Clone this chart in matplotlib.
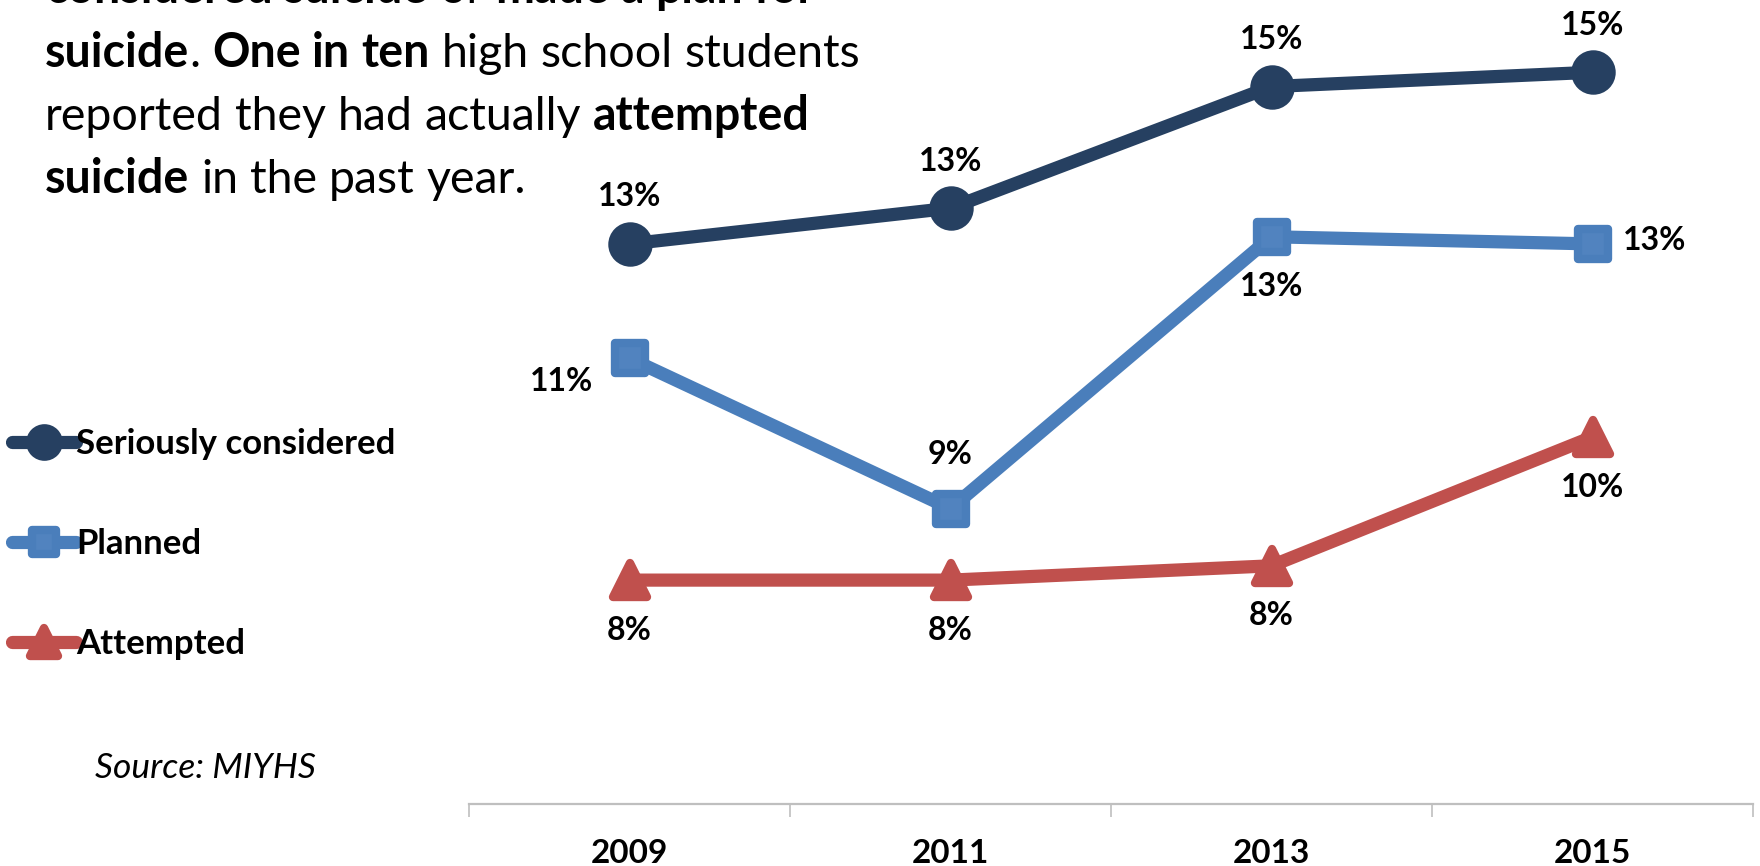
import matplotlib
matplotlib.use("Agg")
import matplotlib.pyplot as plt
from matplotlib.markers import MarkerStyle

plt.rcParams['font.family'] = ['Lato', 'DejaVu Sans']

years = ['2009', '2011', '2013', '2015']
considered = [12.7, 13.2, 14.9, 15.1]
planned = [11.1, 9.0, 12.8, 12.7]
attempted = [8.0, 8.0, 8.2, 10.0]
series_names = ['Seriously considered', 'Planned', 'Attempted']

# label placement for each point, in pixels from the marker
label_offsets = [
    [(0, 47), (0, 47), (0, 47), (0, 47)],
    [(-68, -23), (0, 54), (0, -50), (62, 3)],
    [(0, -50), (0, -50), (0, -50), (0, -50)],
]

navy = '#264061'
blue = '#4A7EBB'
red = '#C0504D'

W, H = 1760, 866
fig = plt.figure(figsize=(W / 100, H / 100), dpi=100)
ax = fig.add_axes([469 / W, (H - 804) / H, (1753 - 469) / W, 804 / H])

x = range(len(years))
styles = [
    dict(color=navy, marker=MarkerStyle('o', joinstyle='round'), ms=28,
         mfc=navy, mec=navy, mew=4),
    dict(color=blue, marker=MarkerStyle('s', joinstyle='round'), ms=21,
         mfc='#5183BF', mec=blue, mew=6),
    dict(color=red, marker=MarkerStyle('^', joinstyle='round'), ms=25,
         mfc=red, mec=red, mew=6),
]
handles = []
for vals, name, st, offs in zip([considered, planned, attempted],
                                series_names, styles, label_offsets):
    line, = ax.plot(x, vals, lw=9.5, solid_capstyle='round',
                    solid_joinstyle='round', label=name, **st)
    handles.append(line)
    for xi, v, (dx, dy) in zip(x, vals, offs):
        ax.annotate(f'{round(v)}%', (xi, v), xytext=(dx, dy),
                    textcoords='offset pixels', ha='center', va='center',
                    fontsize=23, fontweight='bold', color='black')

ax.set_xlim(-0.5, 3.5)
ax.set_ylim(4.87, 16.11)
for s in ['top', 'right', 'left']:
    ax.spines[s].set_visible(False)
ax.spines['bottom'].set_color('#BFBFBF')
ax.spines['bottom'].set_linewidth(1.6)
ax.set_yticks([])
ax.set_xticks(list(x))
ax.set_xticklabels(years, fontsize=24, fontweight='bold')
ax.tick_params(axis='x', which='major', length=0, pad=25)
ax.set_xticks([-0.5, 0.5, 1.5, 2.5, 3.5], minor=True)
ax.tick_params(axis='x', which='minor', length=9.5, width=1.2,
               color='#BFBFBF', direction='out')

leg = fig.legend(handles=handles, loc='center left',
                 bbox_to_anchor=(12 / W, 1 - 544 / H), frameon=False,
                 prop={'weight': 'bold', 'size': 25}, markerscale=0.8,
                 handlelength=1.85, handletextpad=0.0, labelspacing=1.96,
                 borderaxespad=0.0, borderpad=0.0)
leg.set_zorder(5)

fig.text(95 / W, 1 - 768 / H, 'Source: MIYHS', fontsize=25.5, style='italic',
         va='center', ha='left')

# headline text with mixed weights, drawn run by run
renderer = fig.canvas.get_renderer()


def text_width(s, weight, size):
    t = fig.text(0, 0, s, fontsize=size, fontweight=weight)
    w = t.get_window_extent(renderer).width
    t.remove()
    return w


def draw_runs(x_px, base_px, runs, size=33.5):
    xp = x_px
    for s, bold in runs:
        weight = 'bold' if bold else 'normal'
        if s == ' ':
            xp += text_width('x x', weight, size) - text_width('xx', weight, size)
            continue
        t = fig.text(xp / W, 1 - base_px / H, s, fontsize=size,
                     fontweight=weight, va='baseline', ha='left', zorder=6)
        xp += t.get_window_extent(renderer).width


headline = [
    [('considered', True), (' ', True), ('suicide', True), (' ', False),
     ('or', False), (' ', False), ('made', True), (' ', True), ('a', True),
     (' ', True), ('plan', True), (' ', True), ('for', True)],
    [('suicide', True), ('.', False), (' ', False), ('One', True), (' ', True),
     ('in', True), (' ', True), ('ten', True), (' ', False), ('high', False),
     (' ', False), ('school', False), (' ', False), ('students', False)],
    [('reported', False), (' ', False), ('they', False), (' ', False),
     ('had', False), (' ', False), ('actually', False), (' ', False),
     ('attempted', True)],
    [('suicide', True), (' ', False), ('in', False), (' ', False),
     ('the', False), (' ', False), ('past', False), (' ', False),
     ('year.', False)],
]
baselines = [3, 67, 130, 193]
for base, runs in zip(baselines, headline):
    draw_runs(45, base, runs)

fig.savefig('out.png', dpi=100)
